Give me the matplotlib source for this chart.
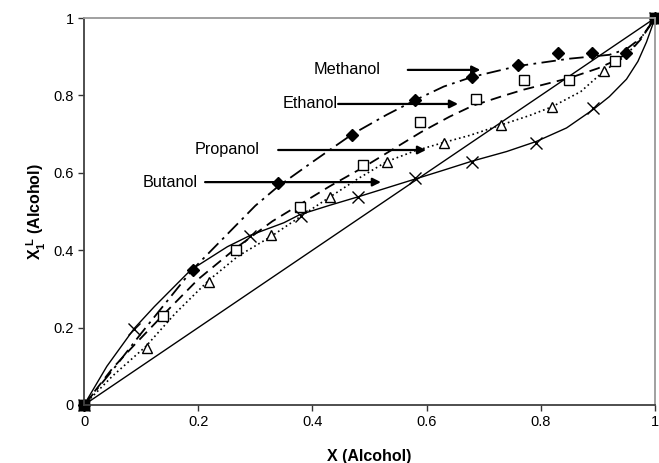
import matplotlib
matplotlib.use("Agg")
import matplotlib.pyplot as plt

plt.rcParams["font.family"] = ["Liberation Sans", "DejaVu Sans"]
plt.rcParams["mathtext.fontset"] = "custom"
plt.rcParams["mathtext.rm"] = "Liberation Sans"
plt.rcParams["mathtext.bf"] = "Liberation Sans:bold"

# experimental points
meth_x = [0, 0.19, 0.34, 0.47, 0.58, 0.68, 0.76, 0.83, 0.89, 0.95, 1]
meth_y = [0, 0.35, 0.573, 0.698, 0.788, 0.848, 0.879, 0.910, 0.910, 0.910, 1]
eth_x = [0, 0.139, 0.267, 0.379, 0.489, 0.588, 0.687, 0.770, 0.850, 0.930, 1]
eth_y = [0, 0.230, 0.400, 0.512, 0.620, 0.731, 0.790, 0.840, 0.840, 0.890, 1]
prop_x = [0, 0.110, 0.219, 0.328, 0.431, 0.530, 0.630, 0.731, 0.819, 0.911, 1]
prop_y = [0, 0.146, 0.319, 0.439, 0.537, 0.628, 0.678, 0.724, 0.771, 0.864, 1]
but_x = [0, 0.088, 0.290, 0.380, 0.480, 0.579, 0.679, 0.792, 0.891, 1]
but_y = [0, 0.196, 0.437, 0.488, 0.537, 0.586, 0.627, 0.678, 0.768, 1]

# model curves
meth_cx = [0, 0.05, 0.10, 0.19, 0.25, 0.30, 0.34, 0.40, 0.47, 0.53, 0.58, 0.63, 0.68, 0.76, 0.85, 0.92, 0.95, 0.975, 1]
meth_cy = [0, 0.09, 0.185, 0.35, 0.44, 0.515, 0.565, 0.628, 0.70, 0.75, 0.788, 0.823, 0.848, 0.876, 0.895, 0.905, 0.92, 0.948, 1]
eth_cx = [0, 0.05, 0.088, 0.14, 0.20, 0.27, 0.33, 0.38, 0.43, 0.49, 0.54, 0.59, 0.64, 0.68, 0.73, 0.77, 0.81, 0.85, 0.90, 0.93, 0.955, 0.975, 1]
eth_cy = [0, 0.095, 0.155, 0.235, 0.325, 0.41, 0.475, 0.52, 0.565, 0.615, 0.66, 0.705, 0.745, 0.773, 0.797, 0.815, 0.830, 0.845, 0.87, 0.89, 0.912, 0.945, 1]
prop_cx = [0, 0.05, 0.108, 0.16, 0.219, 0.27, 0.327, 0.38, 0.431, 0.48, 0.530, 0.58, 0.629, 0.676, 0.731, 0.78, 0.820, 0.87, 0.909, 0.950, 0.979, 1]
prop_cy = [0, 0.075, 0.151, 0.237, 0.323, 0.385, 0.435, 0.488, 0.538, 0.585, 0.629, 0.657, 0.678, 0.697, 0.724, 0.748, 0.771, 0.81, 0.861, 0.904, 0.956, 1]
but_cx = [0, 0.04, 0.088, 0.123, 0.187, 0.251, 0.292, 0.350, 0.378, 0.43, 0.480, 0.53, 0.580, 0.63, 0.679, 0.74, 0.792, 0.845, 0.892, 0.92, 0.95, 0.97, 0.985, 1]
but_cy = [0, 0.10, 0.198, 0.254, 0.349, 0.409, 0.439, 0.471, 0.492, 0.516, 0.538, 0.561, 0.584, 0.607, 0.630, 0.655, 0.681, 0.716, 0.764, 0.797, 0.842, 0.888, 0.938, 1]

# labels with arrows: text right edge, arrow y, arrow start x, arrow end x
labels = ["Methanol", "Ethanol", "Propanol", "Butanol"]
label_x = [0.52, 0.445, 0.308, 0.200]
label_y = [0.866, 0.778, 0.659, 0.576]
arrow_x0 = [0.567, 0.445, 0.340, 0.212]
arrow_x1 = [0.694, 0.655, 0.599, 0.520]

fig = plt.figure(figsize=(6.59, 4.63), dpi=100)
ax = fig.add_axes([0.1275, 0.1253, 0.8665, 0.8357])

ax.plot([0, 1], [0, 1], color="black", lw=1.0)
ax.plot(meth_cx, meth_cy, color="black", lw=1.3, dashes=(8, 3, 1.5, 3))
ax.plot(eth_cx, eth_cy, color="black", lw=1.3, dashes=(6, 3.5))
ax.plot(prop_cx, prop_cy, color="black", lw=1.2, dashes=(1, 1.8))
ax.plot(but_cx, but_cy, color="black", lw=1.0)

ax.plot(meth_x, meth_y, "D", color="black", ms=6.5, ls="none", clip_on=False)
ax.plot(eth_x, eth_y, "s", mfc="white", mec="black", mew=1.0, ms=6.5, ls="none", clip_on=False)
ax.plot(prop_x, prop_y, "^", mfc="white", mec="black", mew=1.0, ms=7.5, ls="none", clip_on=False)
ax.plot(but_x, but_y, "x", color="black", mew=1.0, ms=8, ls="none", clip_on=False)
ax.plot([0, 1], [0, 1], "s", color="black", ms=6.5, ls="none", clip_on=False)

for name, tx, ty, x0, x1 in zip(labels, label_x, label_y, arrow_x0, arrow_x1):
    ax.text(tx, ty, name, ha="right", va="center", fontsize=11.7)
    ax.annotate("", xy=(x1, ty), xytext=(x0, ty),
                arrowprops=dict(arrowstyle="-|>", color="black", lw=1.6,
                                mutation_scale=12, shrinkA=0, shrinkB=0))

ax.set_xlim(0, 1)
ax.set_ylim(0, 1)
ticks = [0, 0.2, 0.4, 0.6, 0.8, 1]
tick_labels = ["0", "0.2", "0.4", "0.6", "0.8", "1"]
ax.set_xticks(ticks)
ax.set_xticklabels(tick_labels)
ax.set_yticks(ticks)
ax.set_yticklabels(tick_labels)
ax.tick_params(direction="out", length=4, width=1, labelsize=10.5, colors="#333333", labelcolor="black")

ax.spines["left"].set_color("#404040")
ax.spines["bottom"].set_color("#404040")
ax.spines["left"].set_linewidth(1.3)
ax.spines["bottom"].set_linewidth(1.3)
ax.spines["top"].set_color("#999999")
ax.spines["right"].set_color("#999999")
ax.spines["top"].set_linewidth(1.3)
ax.spines["right"].set_linewidth(1.3)

ax.set_xlabel("X (Alcohol)", fontsize=11.5, fontweight="bold", labelpad=14)
ax.set_ylabel(r"$\mathbf{X_1^{\ L}}$ (Alcohol)", fontsize=11.5, fontweight="bold", labelpad=4)

fig.savefig("out.png", dpi=100)
